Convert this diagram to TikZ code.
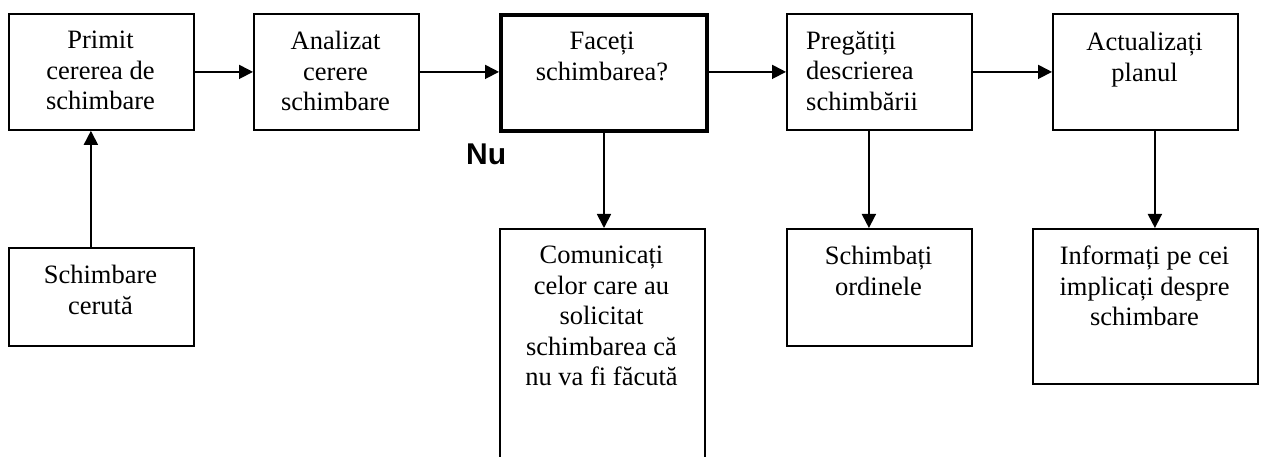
\documentclass[tikz,border=0pt]{standalone}
\usepackage{fontspec}
\setmainfont{Liberation Serif}
\newfontfamily\nufont{Liberation Sans}
\usetikzlibrary{arrows.meta}
\begin{document}
\begin{tikzpicture}[x=1pt,y=-1pt,
  box/.style={draw,line width=1.8pt,inner sep=0pt,rectangle,anchor=north west},
  thickbox/.style={box,line width=4pt},
  txt/.style={font=\fontsize{26.5}{30.5}\selectfont,align=center,inner sep=0pt,anchor=north},
  ltxt/.style={txt,align=left,anchor=north west},
  arr/.style={line width=1.8pt,-{Triangle[length=14pt,width=14pt]}}]
\useasboundingbox (0,0) rectangle (1262,457);
\clip (0,0) rectangle (1262,457);
% top row
\node[box,minimum width=185pt,minimum height=116pt] (b1) at (8,13) {};
\node[box,minimum width=165pt,minimum height=116pt] (b2) at (253,13) {};
\node[thickbox,minimum width=206pt,minimum height=116pt] (b3) at (499,13) {};
\node[box,minimum width=185pt,minimum height=116pt] (b4) at (786,13) {};
\node[box,minimum width=185pt,minimum height=116pt] (b5) at (1052,13) {};
% bottom row
\node[box,minimum width=185pt,minimum height=98pt] (b6) at (8,247) {};
\node[box,minimum width=205pt,minimum height=242pt] (b7) at (499,228) {};
\node[box,minimum width=185pt,minimum height=117pt] (b8) at (786,228) {};
\node[box,minimum width=225pt,minimum height=155pt] (b9) at (1032,228) {};
% texts
\node[txt] (t1) at (100.5,31) {Primit\\cererea de\\schimbare};
\node[txt] (t2) at (335.5,31) {Analizat\\cerere\\schimbare};
\node[txt] (t3) at (602,32) {Faceți\\schimbarea?};
\node[ltxt] (t4) at (806,31) {Pregătiți\\descrierea\\schimbării};
\node[txt] (t5) at (1144.5,32) {Actualizați\\planul};
\node[txt] (t6) at (100.5,265) {Schimbare\\cerută};
\node[txt] (t7) at (601.5,246) {Comunicați\\celor care au\\solicitat\\schimbarea că\\nu va fi făcută};
\node[txt] (t8) at (878.5,246) {Schimbați\\ordinele};
\node[txt] (t9) at (1144.5,246) {Informați pe cei\\implicați despre\\schimbare};
\node[font={\fontsize{30}{34}\selectfont\nufont\bfseries},anchor=base west,inner sep=0pt] (nu) at (466,164.5) {Nu};
% connectors
\draw[arr] (b1.east) -- (b1.east -| b2.west);
\draw[arr] (b2.east) -- (b2.east -| b3.west);
\draw[arr] (b3.east |- b2.east) -- (b2.east -| b4.west);
\draw[arr] (b4.east) -- (b4.east -| b5.west);
\draw[arr] ([xshift=-10.5pt]b6.north) -- ([xshift=-10.5pt]b6.north |- b1.south);
\draw[arr] (b3.south) -- (b3.south |- b7.north);
\draw[arr] ([xshift=-10.5pt]b4.south) -- ([xshift=-10.5pt]b4.south |- b8.north);
\draw[arr] ([xshift=9.5pt]b5.south) -- ([xshift=9.5pt]b5.south |- b9.north);
\end{tikzpicture}
\end{document}
